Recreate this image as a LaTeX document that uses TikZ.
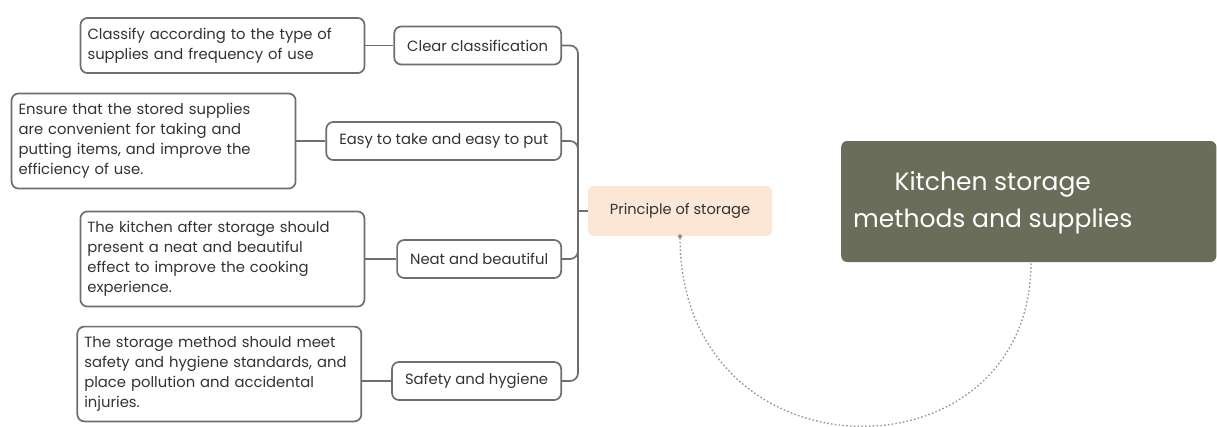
\documentclass[tikz,border=0pt]{standalone}
\usepackage{fontspec}
\setmainfont{Poppins}
\usetikzlibrary{positioning,arrows.meta}

\definecolor{linegray}{HTML}{6E6E6E}
\definecolor{peach}{HTML}{FCE6D6}
\definecolor{olive}{HTML}{6A6D59}
\definecolor{ink}{HTML}{333333}

\begin{document}
\begin{tikzpicture}[
    x=1pt, y=-1pt,
    font=\fontsize{14.8}{20}\selectfont,
    text=ink,
    node distance=29pt,
    topic/.style  ={draw=linegray, line width=1.7pt, rounded corners=7pt,
                    fill=white, minimum height=38pt, inner xsep=13pt, anchor=east},
    detail/.style ={draw=linegray, line width=1.7pt, rounded corners=7pt,
                    fill=white, align=left, text width=270pt, inner xsep=7pt,
                    inner ysep=10pt},
    link/.style   ={line width=1.7pt, linegray, rounded corners=8pt},
  ]
  \useasboundingbox (0,0) rectangle (1217,426);

  % ------------------------------------------------------------- root ---
  \node[fill=olive, rounded corners=6pt, anchor=west, minimum height=121pt,
        inner xsep=12pt, text=white, font=\fontsize{25}{37}\selectfont]
        (root) at (841,201.5)
        {\raisebox{-5pt}{\begin{tabular}{@{}c@{}}Kitchen storage\\methods and supplies\end{tabular}}\hspace{72pt}\null};

  % -------------------------------------------------------- principle ---
  \node[fill=peach, rounded corners=6pt, minimum width=184pt, minimum height=50pt,
        font=\fontsize{14.6}{18}\selectfont] (principle) at (680,211)
        {Principle of storage};

  % ----------------------------------------------------------- topics ---
  \node[topic] (clear)  at (562,45.5) {Clear classification};
  \node[topic] (easy)   at (562,141)  {Easy to take and easy to put};
  \node[topic] (neat)   at (562,259)  {Neat and beautiful};
  \node[topic] (safety) at (562,381)  {Safety and hygiene};

  % ---------------------------------------------------------- details ---
  \node[detail, left=28pt of clear] (clearTxt)
        {Classify according to the type of\\supplies and frequency of use};
  \node[detail, left=29pt of easy] (easyTxt)
        {Ensure that the stored supplies\\are convenient for taking and\\putting items, and improve the\\efficiency of use.};
  \node[detail, left=31pt of neat] (neatTxt)
        {The kitchen after storage should\\present a neat and beautiful\\effect to improve the cooking\\experience.};
  \node[detail, left=29pt of safety, yshift=7pt] (safetyTxt)
        {The storage method should meet\\safety and hygiene standards, and\\place pollution and accidental\\injuries.};

  % ============================================================ edges ===
  \coordinate (bus) at (578,211);
  \foreach \t in {clear,easy,neat,safety}
    \draw[link] (\t.east) -| (bus);
  \draw[link] (bus) -- (principle.west);

  \draw[line width=1.7pt, linegray] (clearTxt.east)  -- (clear.west);
  \draw[line width=1.7pt, linegray] (easyTxt.east)   -- (easy.west);
  \draw[line width=1.7pt, linegray] (neatTxt.east)   -- (neat.west);
  \draw[line width=1.7pt, linegray] (safetyTxt.east |- safety.west) -- (safety.west);

  % principle <-> root
  \draw[{Circle[length=4.5pt]}-, gray!85, line width=1.3pt, dash pattern=on 1.6pt off 2.2pt]
        ([yshift=2pt]principle.south) .. controls (681,485) and (1031,485) .. (root.south -| 1031,0);
\end{tikzpicture}
\end{document}
